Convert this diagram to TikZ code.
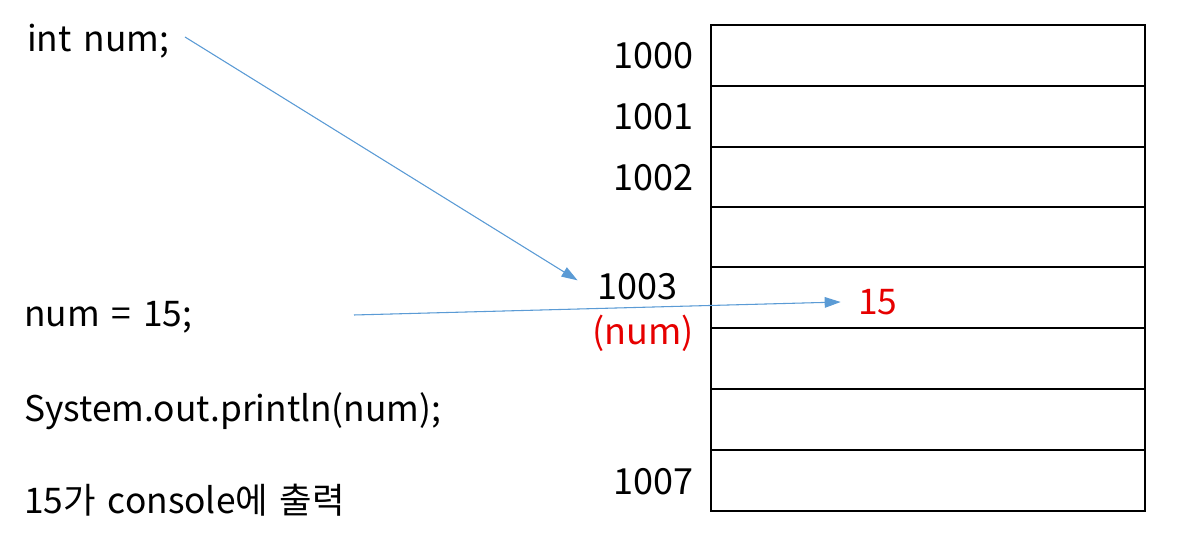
\documentclass[tikz,border=0pt]{standalone}
\usepackage{fontspec}
\setmainfont[WordSpace=1.5]{Noto Sans CJK KR}
\usetikzlibrary{arrows.meta}
\definecolor{arrowblue}{RGB}{91,155,213}
\definecolor{valred}{RGB}{230,0,0}
\tikzset{
  code/.style={anchor=west, inner sep=0pt, font=\fontsize{26.5}{32}\selectfont},
  addr/.style={anchor=east, inner sep=0pt, font=\fontsize{27}{32}\selectfont},
  ptr/.style={-{Triangle[length=12pt,width=8pt]}, draw=arrowblue, fill=arrowblue, line width=0.8pt},
}
\begin{document}
\begin{tikzpicture}[x=0.75pt, y=-0.75pt]
	\useasboundingbox (0,0) rectangle (1186,548);
	
	% memory cells
	\draw[line width=1.5pt] (711,25) rectangle (1145,511);
	\foreach \y in {86,147,207,267,328,389,450}
		\draw[line width=1.5pt] (711,\y) -- (1145,\y);
	
	% code lines
	\node[code] (decl) at (27,41) {int num;};
	\node[code] (assign) at (24,317) {num = 15;};
	\node[code] (print) at (24,411) {System.out.println(num);};
	\node[code] (out) at (24,500) {15가 console에 출력};
	
	% addresses
	\node[addr] (a0) at (694,56) {1000};
	\node[addr] (a1) at (694,117) {1001};
	\node[addr] (a2) at (694,178) {1002};
	\node[addr] (a3) at (678,287) {1003};
	\node[addr, text=valred] (name) at (694,333) {(num)};
	\node[addr] (a7) at (694,482) {1007};
	
	% stored value
	\node[code, text=valred] (val) at (858,302) {15};
	
	% arrows
	\coordinate (declend) at (185,37);
	\coordinate (assignend) at (354,315);
	\draw[ptr] (declend) -- ([xshift=-15pt,yshift=5pt]a3.west);
	\draw[ptr] (assignend) -- ([xshift=-13pt]val.west);
\end{tikzpicture}
\end{document}
